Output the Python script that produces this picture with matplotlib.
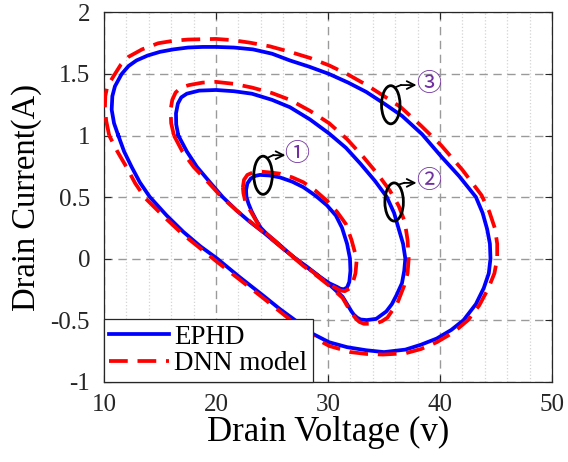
import matplotlib
matplotlib.use("Agg")
import matplotlib.pyplot as plt
import numpy as np
from matplotlib.patches import Ellipse

# --- data (drain voltage V, drain current A) ---
# loop 1 (inner)
ephd_v1 = [22.68, 22.8, 23.1, 23.5, 23.93, 24.8, 25.7, 26.8, 27.8, 28.9, 29.9, 30.7, 31.25, 31.7, 31.96, 32.0,
           31.9, 31.7, 31.4, 31.1, 30.8, 30.1, 29.3, 28.1, 26.9, 25.7, 24.5, 24.0, 23.6, 23.2, 22.9, 22.72]
ephd_i1 = [0.555, 0.61, 0.65, 0.672, 0.68, 0.675, 0.66, 0.625, 0.58, 0.51, 0.433, 0.35, 0.25, 0.12, 0.0, -0.10,
           -0.19, -0.235, -0.25, -0.245, -0.23, -0.20, -0.15, -0.065, 0.013, 0.11, 0.203, 0.25, 0.31, 0.38, 0.447, 0.50]
dnn_v1 = [22.4, 22.5, 22.8, 23.3, 23.93, 24.8, 25.7, 26.8, 27.8, 28.9, 29.9, 30.8, 31.6, 32.1, 32.4, 32.55,
          32.45, 32.2, 31.9, 31.5, 31.1, 30.7, 30.1, 29.3, 28.1, 26.9, 25.7, 24.5, 24.0, 23.5, 23.0, 22.6, 22.45]
dnn_i1 = [0.58, 0.64, 0.68, 0.70, 0.707, 0.70, 0.69, 0.66, 0.62, 0.55, 0.47, 0.38, 0.28, 0.15, 0.05, -0.02,
          -0.12, -0.20, -0.245, -0.265, -0.26, -0.24, -0.21, -0.155, -0.07, 0.013, 0.11, 0.203, 0.25, 0.32, 0.40, 0.47, 0.53]

# loop 2 (middle)
ephd_v2 = [16.64, 16.45, 16.43, 16.6, 16.9, 17.4, 18.5, 20.0, 21.6, 23.2, 25.0, 26.6, 28.4, 30.1, 31.6, 32.9,
           34.2, 35.25, 35.9, 36.3, 36.7, 36.9, 36.8, 36.6, 36.1, 35.7, 35.2, 34.3, 33.45, 32.9, 32.6, 32.3,
           32.1, 31.3, 30.1, 29.0, 27.8, 26.0, 24.2, 23.0, 21.85, 20.6, 19.46, 18.3, 17.4]
ephd_i2 = [1.0, 1.09, 1.18, 1.26, 1.31, 1.34, 1.365, 1.37, 1.36, 1.34, 1.29, 1.23, 1.13, 1.016, 0.90, 0.77,
           0.63, 0.50, 0.37, 0.244, 0.12, 0.0, -0.10, -0.20, -0.30, -0.37, -0.43, -0.49, -0.50, -0.495, -0.48, -0.455,
           -0.43, -0.31, -0.21, -0.13, -0.05, 0.08, 0.216, 0.30, 0.39, 0.50, 0.62, 0.745, 0.87]
dnn_v2 = [16.25, 16.0, 15.95, 16.1, 16.4, 16.9, 17.6, 18.8, 20.0, 21.6, 23.2, 25.0, 26.6, 28.4, 30.1, 31.7,
          33.15, 34.4, 35.5, 36.3, 36.85, 37.1, 37.2, 37.1, 36.8, 36.2, 35.3, 34.8, 34.2, 33.2, 32.8, 32.5,
          32.0, 31.3, 30.1, 29.0, 27.8, 26.0, 24.2, 23.0, 21.85, 20.5, 19.3, 18.0, 17.0]
dnn_i2 = [1.0, 1.10, 1.21, 1.29, 1.35, 1.39, 1.41, 1.43, 1.436, 1.42, 1.39, 1.345, 1.29, 1.20, 1.10, 0.97,
          0.826, 0.69, 0.555, 0.43, 0.30, 0.15, 0.0, -0.12, -0.22, -0.36, -0.48, -0.51, -0.53, -0.53, -0.515, -0.49,
          -0.43, -0.32, -0.22, -0.14, -0.06, 0.08, 0.216, 0.305, 0.39, 0.50, 0.62, 0.745, 0.87]

# loop 3 (outer)
ephd_v3 = [11.28, 10.9, 10.69, 10.75, 10.98, 11.58, 12.2, 12.9, 13.9, 15.0, 16.2, 17.5, 18.8, 20.0, 21.6, 23.3,
           25.0, 26.6, 28.3, 30.1, 31.8, 33.4, 35.0, 36.6, 38.4, 40.1, 41.7, 43.2, 43.8, 44.2, 44.45, 44.5,
           44.35, 43.9, 43.2, 42.1, 41.0, 39.7, 38.3, 36.9, 35.0, 33.4, 31.7, 30.1, 28.6, 27.2, 25.7, 24.2,
           22.1, 20.1, 18.6, 17.1, 15.6, 14.1, 13.2, 12.47, 11.8]
ephd_i3 = [1.0, 1.1, 1.21, 1.32, 1.40, 1.50, 1.565, 1.61, 1.65, 1.68, 1.70, 1.715, 1.72, 1.72, 1.715, 1.70,
           1.665, 1.61, 1.56, 1.50, 1.43, 1.355, 1.26, 1.16, 1.01, 0.83, 0.67, 0.50, 0.37, 0.24, 0.12, 0.0,
           -0.12, -0.24, -0.37, -0.50, -0.58, -0.65, -0.70, -0.74, -0.76, -0.745, -0.72, -0.68, -0.61, -0.51, -0.41, -0.30,
           -0.15, 0.0, 0.10, 0.216, 0.35, 0.50, 0.62, 0.745, 0.87]
dnn_v3 = [10.47, 10.2, 10.09, 10.12, 10.3, 10.98, 11.5, 12.2, 13.4, 14.85, 16.2, 17.5, 20.0, 21.5, 23.0, 24.8,
          26.6, 28.4, 30.1, 31.8, 33.45, 35.0, 36.5, 38.3, 40.1, 42.0, 43.7, 44.4, 44.9, 45.1, 45.1, 44.85,
          44.3, 43.5, 42.5, 41.2, 39.7, 38.3, 36.9, 34.9, 33.4, 32.0, 30.1, 28.6, 27.2, 25.7, 24.2, 22.1,
          20.0, 18.5, 17.0, 15.3, 13.7, 12.8, 12.0, 11.2]
dnn_i3 = [1.0, 1.12, 1.23, 1.32, 1.40, 1.50, 1.575, 1.64, 1.70, 1.75, 1.77, 1.78, 1.785, 1.775, 1.755, 1.725,
          1.68, 1.63, 1.57, 1.495, 1.41, 1.32, 1.23, 1.08, 0.92, 0.72, 0.515, 0.38, 0.244, 0.12, 0.0, -0.12,
          -0.244, -0.38, -0.50, -0.60, -0.68, -0.735, -0.77, -0.78, -0.775, -0.76, -0.71, -0.635, -0.54, -0.43, -0.32, -0.17,
          -0.02, 0.09, 0.20, 0.345, 0.49, 0.61, 0.745, 0.87]

# annotation markers: ellipse centre, arrow tip and label position
mark_labels = ["\u2460", "\u2461", "\u2462"]
mark_centres = [(24.2, 0.677), (35.9, 0.46), (35.6, 1.25)]
mark_tips = [(26.2, 0.84), (37.9, 0.615), (37.9, 1.41)]
mark_text = [(27.2, 0.848), (38.96, 0.628), (38.96, 1.417)]

xticks = [10, 20, 30, 40, 50]
yticks = [-1, -0.5, 0, 0.5, 1, 1.5, 2]
ytick_labels = ["-1", "-0.5", "0", "0.5", "1", "1.5", "2"]

plt.rcParams["font.family"] = ["Liberation Serif", "DejaVu Serif"]
plt.rcParams["axes.unicode_minus"] = False

fig = plt.figure(figsize=(5.68, 4.62), dpi=100)
ax = fig.add_axes([0.183, 0.174, 0.789, 0.799])


def closed(v, i):
    return np.append(v, v[0]), np.append(i, i[0])


blue_kw = dict(color="#0000ff", lw=2.7, solid_joinstyle="round", zorder=3)
red_kw = dict(color="#ff0000", lw=2.7, linestyle=(0, (5.0, 2.6)), zorder=4)

for k, (ev, ei, dv, di) in enumerate([(ephd_v1, ephd_i1, dnn_v1, dnn_i1),
                                       (ephd_v2, ephd_i2, dnn_v2, dnn_i2),
                                       (ephd_v3, ephd_i3, dnn_v3, dnn_i3)]):
    ax.plot(*closed(ev, ei), label="EPHD" if k == 0 else None, **blue_kw)
    ax.plot(*closed(dv, di), label="DNN model" if k == 0 else None, **red_kw)

# ellipses + arrows + circled numbers
for lab, c, tip, tpos in zip(mark_labels, mark_centres, mark_tips, mark_text):
    ax.add_patch(Ellipse(c, width=1.65, height=0.31, fill=False, ec="black", lw=2.0, zorder=6))
    start = (c[0] + 0.35, c[1] + 0.14)
    bend = (c[0] + 0.9, tip[1])
    ax.plot([start[0], bend[0]], [start[1], bend[1]], color="black", lw=1.3, zorder=6)
    ax.annotate("", xy=tip, xytext=bend,
                arrowprops=dict(arrowstyle="->", color="black", lw=1.3,
                                shrinkA=0, shrinkB=0, mutation_scale=14), zorder=6)
    ax.text(tpos[0], tpos[1], lab, color="#7030a0", fontsize=18, ha="center", va="center",
            family=["Noto Sans CJK SC", "DejaVu Sans"], zorder=6)

ax.set_xlim(10, 50)
ax.set_ylim(-1, 2)
ax.set_xticks(xticks)
ax.set_yticks(yticks)
ax.set_yticklabels(ytick_labels)
ax.set_xticks(np.arange(10, 51, 2), minor=True)
ax.tick_params(axis="both", which="major", direction="in", length=5, width=0.8,
               top=True, right=True, labelsize=18, colors="#262626")
ax.tick_params(axis="x", which="major", pad=9)
ax.tick_params(axis="y", which="major", pad=10)
ax.tick_params(axis="x", which="minor", direction="in", length=0, top=True)
ax.grid(True, which="major", color="#9a9a9a", linestyle=(0, (6, 4)), lw=1.0, zorder=0)
ax.grid(True, which="minor", axis="x", color="#d4d4d4", linestyle=":", lw=0.9, zorder=0)
for sp in ax.spines.values():
    sp.set_color("#262626")
    sp.set_linewidth(0.9)

ax.set_xlabel("Drain Voltage (v)", fontsize=25, labelpad=0)
ax.set_ylabel("Drain Current(A)", fontsize=23.5, labelpad=6)

leg = ax.legend(loc="lower left", bbox_to_anchor=(0, 0), fontsize=19.5, frameon=True, fancybox=False,
                edgecolor="#262626", framealpha=1, handlelength=2.2, borderpad=0.2,
                labelspacing=0.05, handletextpad=0.2, borderaxespad=0)
leg.get_frame().set_linewidth(0.9)
leg.set_zorder(10)

fig.savefig("out.png", dpi=100)
